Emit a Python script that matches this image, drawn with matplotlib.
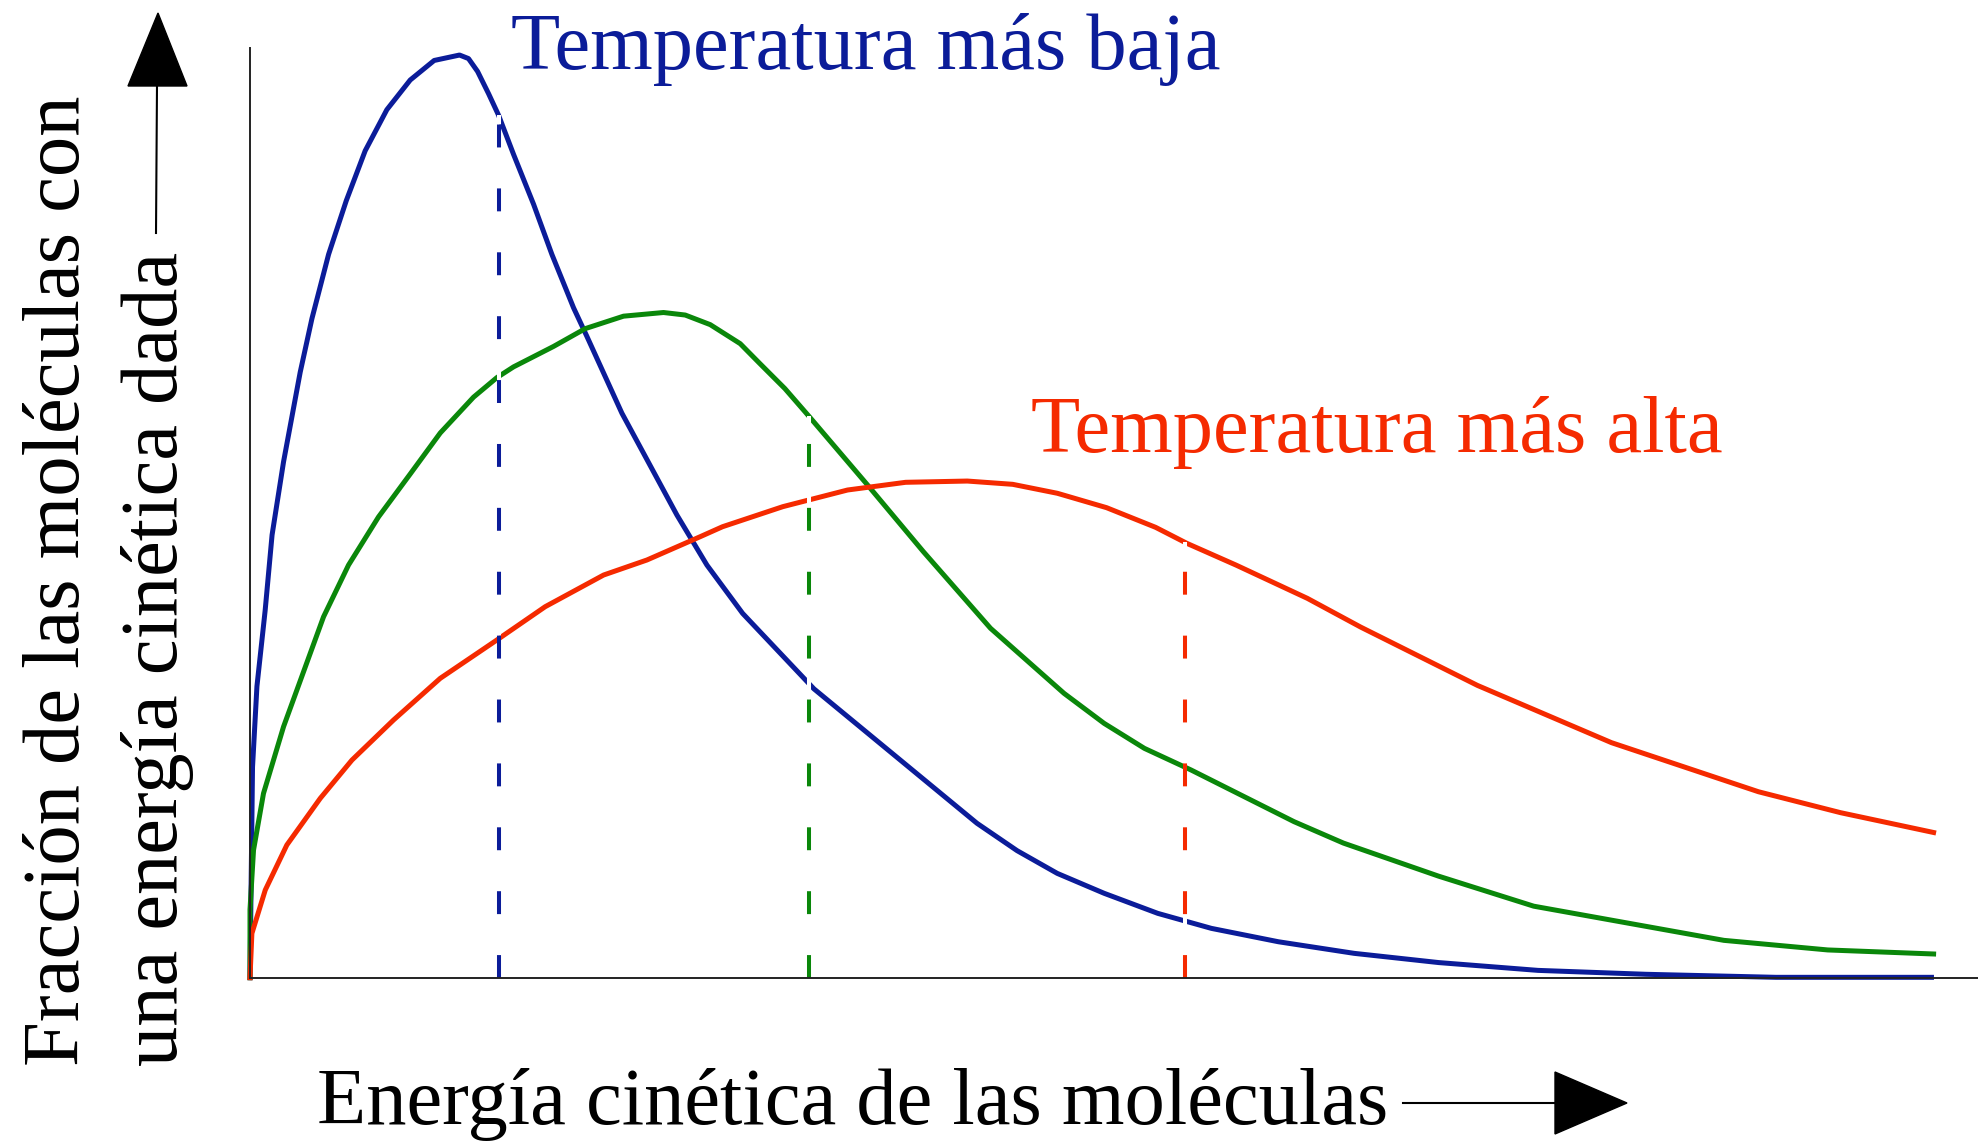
import numpy as np
import matplotlib
matplotlib.use('Agg')
import matplotlib.pyplot as plt
from matplotlib.patches import Polygon
from matplotlib.lines import Line2D

plt.rcParams['font.family'] = ['Liberation Serif', 'DejaVu Serif']
plt.rcParams['lines.scale_dashes'] = False

# energia cinetica (unidades arbitrarias) y fraccion de moleculas
e_baja = [0.0, 0.02, 0.055, 0.12, 0.175, 0.266, 0.398, 0.491, 0.623, 0.763, 0.913,
          1.085, 1.27, 1.46, 1.661, 1.732, 1.804, 1.891, 1.97, 2.089, 2.248, 2.393,
          2.565, 2.671, 2.948, 3.384, 3.622, 3.905, 4.47, 5.763, 6.081, 6.399, 6.771,
          7.196, 7.621, 8.152, 8.753, 9.422, 10.21, 11.067, 12.096, 13.329]
f_baja = [0.0, 1.67, 2.31, 2.91, 3.51, 4.09, 4.80, 5.225, 5.734, 6.159, 6.555,
          6.881, 7.116, 7.271, 7.314, 7.286, 7.184, 7.008, 6.838, 6.527, 6.131, 5.734,
          5.31, 5.083, 4.475, 3.668, 3.271, 2.888, 2.29, 1.224, 1.007, 0.827, 0.669,
          0.51, 0.391, 0.285, 0.193, 0.12, 0.058, 0.027, 0.003, 0.003]

e_media = [0.0, 0.0, 0.028, 0.107, 0.266, 0.583, 0.781, 1.019, 1.27, 1.508, 1.772,
           1.957, 2.089, 2.406, 2.657, 2.961, 3.278, 3.45, 3.648, 3.886, 4.04, 4.24,
           4.44, 4.896, 5.338, 5.87, 6.453, 6.771, 7.09, 7.461, 8.276, 8.668, 9.422,
           10.176, 11.684, 12.507, 13.346]
f_media = [0.0, 0.54, 1.012, 1.461, 1.99, 2.861, 3.271, 3.653, 3.993, 4.318, 4.602,
           4.757, 4.842, 5.004, 5.145, 5.244, 5.273, 5.253, 5.177, 5.026, 4.87, 4.67,
           4.44, 3.905, 3.377, 2.77, 2.254, 2.016, 1.818, 1.646, 1.237, 1.067, 0.805,
           0.567, 0.296, 0.22, 0.188]

e_alta = [0.0, 0.015, 0.121, 0.292, 0.557, 0.808, 1.138, 1.508, 1.957, 2.34, 2.803,
          3.146, 3.569, 3.746, 4.224, 4.737, 5.197, 5.686, 6.046, 6.4, 6.79, 7.179,
          7.427, 7.816, 8.382, 8.805, 9.73, 10.793, 11.958, 12.609, 13.346]
f_alta = [0.0, 0.351, 0.695, 1.052, 1.422, 1.725, 2.043, 2.373, 2.677, 2.941, 3.192,
          3.311, 3.496, 3.575, 3.734, 3.866, 3.927, 3.937, 3.911, 3.84, 3.726, 3.57,
          3.443, 3.271, 3.007, 2.779, 2.317, 1.863, 1.474, 1.308, 1.151]

# energia promedio de cada curva
e_prom = [1.97, 4.43, 7.41]

azul = '#0b1c99'
verde = '#0a870a'
rojo = '#f52a00'

W, H = 1978, 1143
fig = plt.figure(figsize=(W / 100, H / 100), dpi=100)
fx = lambda px: px / W
fy = lambda py: 1 - py / H

ax = fig.add_axes([fx(250), fy(977.7), (W - 250) / W, (977.7 - 48) / H])
ax.set_xlim(0, (W - 250) / 126.15)
ax.set_ylim(0, (977.7 - 48) / 126.15)
ax.set_xticks([])
ax.set_yticks([])
for s in ['top', 'right']:
    ax.spines[s].set_visible(False)
for s in ['left', 'bottom']:
    ax.spines[s].set_linewidth(1.4)
    ax.spines[s].set_color('#222222')
    ax.spines[s].set_zorder(5)

curvas = [(e_baja, f_baja, azul), (e_media, f_media, verde), (e_alta, f_alta, rojo)]
for e, f, c in curvas:
    ax.plot(e, f, color=c, lw=3.6, clip_on=False, zorder=2, solid_joinstyle='round')

#lineas discontinuas (empiezan abajo en el eje)
for (e, f, c), x0 in zip(curvas, e_prom):
    top = np.interp(x0, e, f)
    ax.plot([x0, x0], [0, top], color=c, lw=2.9, ls=(0, (16.5, 29.5)),
            gapcolor='white', zorder=3, clip_on=False)

fig.text(fx(511), fy(69), 'Temperatura más baja', color=azul, fontsize=58,
         ha='left', va='baseline')
fig.text(fx(1031), fy(452), 'Temperatura más alta', color=rojo, fontsize=58,
         ha='left', va='baseline')
fig.text(fx(317), fy(1124), 'Energía cinética de las moléculas', fontsize=58,
         ha='left', va='baseline')
fig.text(fx(79), fy(1066), 'Fracción de las moléculas con', fontsize=58,
         rotation=90, rotation_mode='anchor', ha='left', va='baseline')
fig.text(fx(177), fy(1066), 'una energía cinética dada', fontsize=58,
         rotation=90, rotation_mode='anchor', ha='left', va='baseline')

# flechas
fig.add_artist(Line2D([fx(156), fx(157)], [fy(233), fy(85)], color='black', lw=1.5))
fig.add_artist(Polygon([[fx(158), fy(13)], [fx(128), fy(86)], [fx(187), fy(86)]],
                       closed=True, color='black', transform=fig.transFigure))
fig.add_artist(Line2D([fx(1403), fx(1556)], [fy(1103), fy(1103)], color='black', lw=1.5))
fig.add_artist(Polygon([[fx(1627), fy(1103)], [fx(1555), fy(1072)], [fx(1555), fy(1134)]],
                       closed=True, color='black', transform=fig.transFigure))

plt.savefig('out.png', dpi=100)
